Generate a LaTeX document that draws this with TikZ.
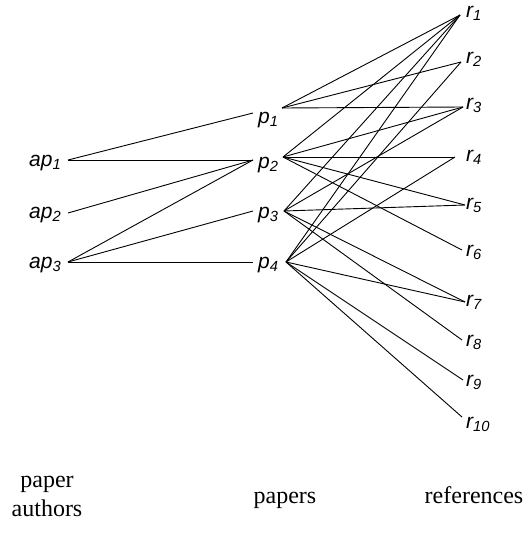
\documentclass[tikz,border=0pt]{standalone}
\usepackage{fontspec}
\setmainfont{Liberation Serif}
\newfontfamily\labfont{Liberation Sans}
\begin{document}
\begin{tikzpicture}[x=1pt,y=-1pt,
  lbl/.style={font=\labfont\itshape\fontsize{21}{21}\selectfont, inner sep=0pt, anchor=base west},
  captext/.style={font=\fontsize{24}{29}\selectfont, inner sep=0pt, align=center},
  link/.style={draw=black, line width=0.9pt}]
\useasboundingbox (0,0) rectangle (529,552);
% labels
\node[lbl] (ap1) at (29,166) {ap\textsubscript{1}};
\node[lbl] (ap2) at (29,218) {ap\textsubscript{2}};
\node[lbl] (ap3) at (29,268) {ap\textsubscript{3}};
\node[lbl] (p1) at (258,123) {p\textsubscript{1}};
\node[lbl] (p2) at (258,168) {p\textsubscript{2}};
\node[lbl] (p3) at (258,218) {p\textsubscript{3}};
\node[lbl] (p4) at (258,268) {p\textsubscript{4}};
\foreach \i/\y in {1/17,2/63,3/109,4/161,5/209,6/256,7/306,8/346,9/386,10/428}
  \node[lbl] (r\i) at (466,\y) {r\textsubscript{\i}};
% connector ends
\coordinate (ap1e) at (68,160);
\coordinate (ap2e) at (68,213);
\coordinate (ap3e) at (68,262);
\coordinate (p1l) at (253,113);
\coordinate (p2l) at (253,160);
\coordinate (p3l) at (253,211);
\coordinate (p4l) at (253,262);
\coordinate (p1r) at (282,108);
\coordinate (p2r) at (283,157);
\coordinate (p3r) at (284,211);
\coordinate (p4r) at (286,262);
\coordinate (r1e) at (460,15);
\coordinate (r2e) at (461,62);
\coordinate (r3e) at (463,107);
\coordinate (r4e) at (455,157);
\coordinate (r5e) at (465,205);
\coordinate (r6e) at (462,250);
\coordinate (r7e) at (465,302);
\coordinate (r8e) at (462,340);
\coordinate (r9e) at (463,380);
\coordinate (r10e) at (462,417);
% authors to papers
\draw[link] (ap1e) -- (p1l);
\draw[link] (ap1e) -- (p2l);
\draw[link] (ap2e) -- (p2l);
\draw[link] (ap3e) -- (p2l);
\draw[link] (ap3e) -- (p3l);
\draw[link] (ap3e) -- (p4l);
% papers to references
\foreach \r in {1,2,3} \draw[link] (p1r) -- (r\r e);
\foreach \r in {1,3,4,5,6} \draw[link] (p2r) -- (r\r e);
\foreach \r in {1,3,5,7,8} \draw[link] (p3r) -- (r\r e);
\foreach \r in {1,2,4,7,9,10} \draw[link] (p4r) -- (r\r e);
% captions
\node[captext] (capA) at (47,496) {paper\\authors};
\node[captext, anchor=base] (capP) at (285,503) {papers};
\node[captext, anchor=base] (capR) at (474,503) {references};
\end{tikzpicture}
\end{document}
